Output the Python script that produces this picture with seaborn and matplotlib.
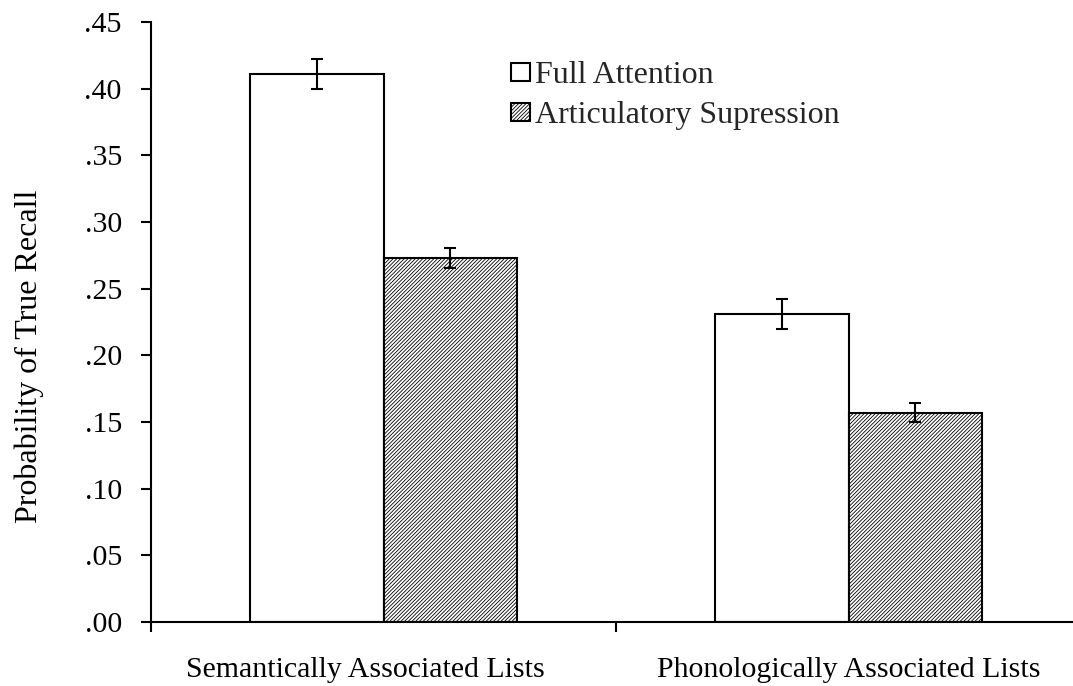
import matplotlib
matplotlib.use("Agg")
import matplotlib.pyplot as plt
from matplotlib.patches import Patch
from matplotlib.transforms import ScaledTranslation
import seaborn as sns
import pandas as pd

lists = ["Semantically Associated Lists", "Phonologically Associated Lists"]
conditions = ["Full Attention", "Articulatory Supression"]
full_attention = [0.411, 0.231]
articulatory = [0.273, 0.157]
full_err = [0.011, 0.0115]
artic_err = [0.0075, 0.007]
yticks = [0.0, 0.05, 0.10, 0.15, 0.20, 0.25, 0.30, 0.35, 0.40, 0.45]
ytick_labels = [".00", ".05", ".10", ".15", ".20", ".25", ".30", ".35", ".40", ".45"]

df = pd.DataFrame({
    "list": lists * 2,
    "cond": [conditions[0]] * 2 + [conditions[1]] * 2,
    "p": full_attention + articulatory,
})

sns.set_theme(style="white")
plt.rcParams["font.family"] = ["Liberation Serif", "DejaVu Serif"]
plt.rcParams["hatch.linewidth"] = 0.6

HATCH = "/////////"

fig = plt.figure(figsize=(10.73, 6.86), dpi=100)
ax = fig.add_axes([151 / 1073, 1 - 622 / 686, 930 / 1073, 600 / 686])

sns.barplot(data=df, x="list", y="p", hue="cond", order=lists, hue_order=conditions,
            palette=["white", "white"], edgecolor="black", linewidth=1.5,
            width=0.576, gap=0, errorbar=None, legend=False, ax=ax, saturation=1)

for patch in ax.containers[1]:
    patch.set_hatch(HATCH)

errs = [full_err, artic_err]
for cont, e in zip(ax.containers, errs):
    xs = [p.get_x() + p.get_width() / 2 for p in cont]
    hs = [p.get_height() for p in cont]
    ax.errorbar(xs, hs, yerr=e, fmt="none", ecolor="black", elinewidth=1.5,
                capsize=4, capthick=1.5, zorder=5)

ax.set_ylim(0, 0.45)
ax.set_xlim(-0.5, 1.5)
ax.set_yticks(yticks)
ax.set_yticklabels(ytick_labels)
ax.set_xticks([-0.5, 0.5, 1.5])
ax.set_xticklabels(["", "", ""])
ax.set_xticks([0, 1], minor=True)
ax.set_xticklabels(lists, minor=True)
ax.tick_params(axis="x", which="minor", length=0, pad=25, labelsize=21.5)
ax.tick_params(axis="x", which="major", length=7, width=1.5, direction="out",
               bottom=True, color="black")
ax.tick_params(axis="y", length=7, width=1.5, direction="out", left=True,
               pad=14, labelsize=21.5, color="black")
for lab in ax.get_xticklabels(minor=True) + ax.get_yticklabels():
    lab.set_color("black")

# the first category label sits slightly left of its bar group in the reference
first_tick = ax.xaxis.get_minor_ticks()[0]
first_tick.label1.set_transform(first_tick.label1.get_transform()
                                + ScaledTranslation(-0.18, 0, fig.dpi_scale_trans))

for s in ["top", "right"]:
    ax.spines[s].set_visible(False)
for s in ["left", "bottom"]:
    ax.spines[s].set_color("black")
    ax.spines[s].set_linewidth(1.5)

ax.set_xlabel("")
ax.set_ylabel("Probability of True Recall", fontsize=23, color="black")
ax.yaxis.set_label_coords((44 - 151) / 930, (622 - 356) / 600)

h1 = Patch(facecolor="white", edgecolor="black", linewidth=1.5)
h2 = Patch(facecolor="white", edgecolor="black", linewidth=1.5, hatch=HATCH)
fig.legend([h1, h2], conditions, loc="upper left",
           bbox_to_anchor=(511 / 1073, 1 - 61 / 686), frameon=False,
           fontsize=23, handlelength=0.6, handleheight=0.5, handletextpad=0.15,
           labelspacing=0.36, borderpad=0, borderaxespad=0)

fig.savefig("out.png", dpi=100)
